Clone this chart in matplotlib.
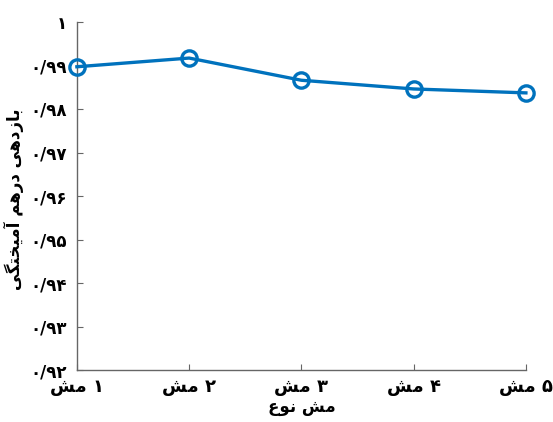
import numpy as np
import matplotlib
matplotlib.use("Agg")
import matplotlib.pyplot as plt

# data
mesh_ids = [1, 2, 3, 4, 5]
efficiency = [0.9897, 0.9917, 0.9866, 0.9846, 0.9837]
y_ticks = [0.92, 0.93, 0.94, 0.95, 0.96, 0.97, 0.98, 0.99, 1.0]

# Arabic/Persian presentation forms: isolated, final, initial, medial
FORMS = {
    'ا': ('\uFE8D', '\uFE8E'), 'آ': ('\uFE81', '\uFE82'),
    'د': ('\uFEA9', '\uFEAA'), 'ر': ('\uFEAD', '\uFEAE'),
    'ز': ('\uFEAF', '\uFEB0'), 'و': ('\uFEED', '\uFEEE'),
    'ب': ('\uFE8F', '\uFE90', '\uFE91', '\uFE92'),
    'ت': ('\uFE95', '\uFE96', '\uFE97', '\uFE98'),
    'خ': ('\uFEA5', '\uFEA6', '\uFEA7', '\uFEA8'),
    'ش': ('\uFEB5', '\uFEB6', '\uFEB7', '\uFEB8'),
    'ع': ('\uFEC9', '\uFECA', '\uFECB', '\uFECC'),
    'م': ('\uFEE1', '\uFEE2', '\uFEE3', '\uFEE4'),
    'ن': ('\uFEE5', '\uFEE6', '\uFEE7', '\uFEE8'),
    'ه': ('\uFEE9', '\uFEEA', '\uFEEB', '\uFEEC'),
    'گ': ('\uFB92', '\uFB93', '\uFB94', '\uFB95'),
    'ی': ('\uFBFC', '\uFBFD', '\uFBFE', '\uFBFF'),
}
FA_DIGITS = str.maketrans('0123456789', '۰۱۲۳۴۵۶۷۸۹')


def shape(word):
    """Join letters of one Persian word and return it in visual order."""
    out = []
    for i, ch in enumerate(word):
        f = FORMS.get(ch)
        if f is None:
            out.append(ch)
            continue
        prev = word[i - 1] if i > 0 else None
        nxt = word[i + 1] if i + 1 < len(word) else None
        join_prev = prev in FORMS and len(FORMS[prev]) == 4
        join_next = len(f) == 4 and nxt in FORMS
        if join_prev and join_next:
            out.append(f[3])
        elif join_next:
            out.append(f[2])
        elif join_prev:
            out.append(f[1])
        else:
            out.append(f[0])
    return ''.join(reversed(out))


def fa_number(v):
    if abs(v - round(v)) < 1e-9:
        s = str(int(round(v)))
    else:
        s = '{:.2f}'.format(v).replace('.', '/')
    return s.translate(FA_DIGITS)


mesh_labels = [shape('مش') + ' ' + str(m).translate(FA_DIGITS) for m in mesh_ids]
x_label = shape('نوع') + ' ' + shape('مش')
y_label = ' '.join(shape(w) for w in reversed('بازدهی درهم آمیختگی'.split()))

plt.rcParams['font.family'] = ['DejaVu Sans']

fig = plt.figure(figsize=(5.53, 4.22), dpi=100)
ax = fig.add_axes([0.139, 0.123, 0.812, 0.825])

ax.plot(mesh_ids, efficiency, color='#0072BD', linewidth=2.4, marker='o',
        markersize=11, markerfacecolor='none', markeredgewidth=2.4,
        clip_on=False, zorder=3)

ax.set_xlim(1, 5)
ax.set_ylim(0.92, 1.0)
ax.set_xticks(mesh_ids)
ax.set_xticklabels(mesh_labels, fontsize=13, fontweight='bold')
ax.set_yticks(y_ticks)
ax.set_yticklabels([fa_number(v) for v in y_ticks], fontsize=12, fontweight='bold')

for side in ('top', 'right'):
    ax.spines[side].set_visible(False)
for side in ('left', 'bottom'):
    ax.spines[side].set_color('#666666')
    ax.spines[side].set_linewidth(1.0)
ax.tick_params(axis='y', direction='in', length=4, color='#666666', labelcolor='black', pad=7)
ax.tick_params(axis='x', direction='in', length=4, color='#666666', labelcolor='black', pad=6)

ax.set_xlabel(x_label, fontsize=12, fontweight='bold', labelpad=1)
ax.set_ylabel(y_label, fontsize=12, fontweight='bold')
ax.yaxis.set_label_coords(-0.118, 0.49)

fig.savefig('out.png', dpi=100)
